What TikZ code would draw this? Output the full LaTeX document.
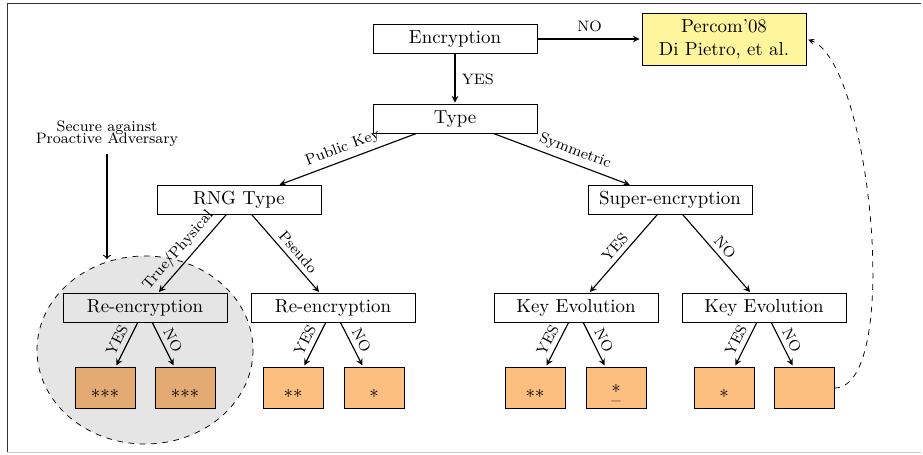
\documentclass[tikz,border=0pt]{standalone}
\usetikzlibrary{positioning,arrows}
\definecolor{percomyellow}{RGB}{255,245,157}
\definecolor{leaforange}{RGB}{253,191,127}
\newcommand{\lowstars}[1]{\smash{\raisebox{-8pt}{#1}}}

\begin{document}
\begin{tikzpicture}[x=0.53pt,y=-0.53pt,>=stealth,shorten >=1pt,semithick,
  box node/.style={draw,thin,fill=white,minimum width=87pt,minimum height=15pt,inner sep=1pt,font=\normalsize},
  leaf node/.style={draw,thin,fill=leaforange,minimum width=31.8pt,minimum height=21.7pt,inner sep=0pt},
  edge label/.style={font=\footnotesize,midway,above,sloped,inner sep=2.5pt}]

            \useasboundingbox (0,0) rectangle (923,454);
            \draw[thin,black!80] (7,452) -- (7,3) -- (923,3);
            \draw[thin,black!20] (7,452) -- (923,452);

            \node[box node] (enc) at (455,39) {Encryption};
            \node[box node,fill=percomyellow,minimum height=27.6pt,align=center] (percom) at (724,39) {Percom'08\\Di Pietro, et al.};
            \node[box node] (type) [below of = enc, node distance=42.4pt] {Type};
            \node[box node] (rng) at (239,200) {RNG Type};
            \node[box node] (super) at (670,200) {Super-encryption};
            \node[box node] (re1) at (145,308) {Re-encryption};
            \node[box node] (re2) at (333,308) {Re-encryption};
            \node[box node] (ke1) at (576,308) {Key Evolution};
            \node[box node] (ke2) at (764,308) {Key Evolution};

            \node[leaf node] (l1) at (105,388) {\lowstars{***}};
            \node[leaf node] (l2) at (185,388) {\lowstars{***}};
            \node[leaf node] (l3) at (293,388) {\lowstars{**}};
            \node[leaf node] (l4) at (374,388) {\lowstars{*}};
            \node[leaf node] (l5) at (535,388) {\lowstars{**}};
            \node[leaf node] (l6) at (616,388) {\smash{\rlap{\raisebox{-5.4pt}{*}}\raisebox{-10pt}{--}}};
            \node[leaf node] (l7) at (724,388) {\lowstars{*}};
            \node[leaf node] (l8) at (804,388) {};

            \node[font=\footnotesize,align=center] (secure) at (107,134) {Secure against\\[-3pt]Proactive Adversary};
            \coordinate (ellipsetop) at (107,259);

            \path[->]
                (enc) edge node[above,font=\footnotesize] {NO} (percom)
                (enc) edge node[right,font=\footnotesize] {YES} (type)
                (type) edge node[edge label] {Public Key} (rng)
                (type) edge node[edge label,pos=0.56] {Symmetric} (super)
                (rng) edge node[edge label,pos=0.56] {True/Physical} (re1)
                (rng) edge node[edge label,pos=0.56] {Pseudo} (re2)
                (super) edge node[edge label] {YES} (ke1)
                (super) edge node[edge label] {NO} (ke2)
                (re1) edge node[edge label] {YES} (l1)
                (re1) edge node[edge label] {NO} (l2)
                (re2) edge node[edge label] {YES} (l3)
                (re2) edge node[edge label] {NO} (l4)
                (ke1) edge node[edge label] {YES} (l5)
                (ke1) edge node[edge label] {NO} (l6)
                (ke2) edge node[edge label] {YES} (l7)
                (ke2) edge node[edge label] {NO} (l8)
            ;

            % shaded region over the true RNG branch
            \draw[thin,dashed,fill=black,fill opacity=0.1] (145,350) ellipse [x radius=108, y radius=94];
            \draw[-to,shorten >=0pt] (secure) -- (ellipsetop);
            \draw[->,thin,dashed] (l8.east) to[out=0,in=-20,looseness=0.5] (percom.east);
\end{tikzpicture}
\end{document}
